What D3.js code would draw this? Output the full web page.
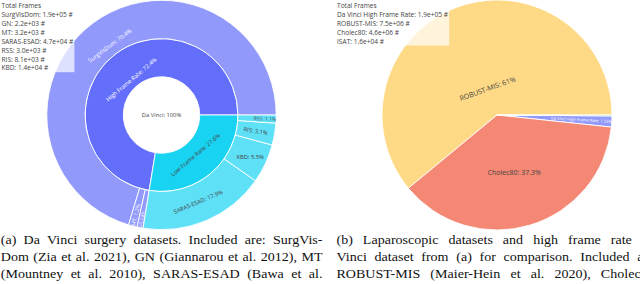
<!DOCTYPE html>
<html><head><meta charset="utf-8">
<script src="https://cdn.jsdelivr.net/npm/d3@7/dist/d3.min.js"></script>
<style>html,body{margin:0;padding:0;background:#fff;overflow:hidden}svg{display:block}</style>
</head><body>
<svg id="chart" width="640" height="284" viewBox="0 0 640 284"></svg>
<script>
// ---------------- data ----------------
const daVinciRoot = "Da Vinci";
const frameRateGroups = ["High Frame Rate", "Low Frame Rate"];
const daVinciDatasets = ["SurgVisDom", "GN", "MT", "SARAS-ESAD", "RSS", "RIS", "KBD"];
const daVinciGroupOf = ["High Frame Rate", "High Frame Rate", "High Frame Rate",
                        "Low Frame Rate", "Low Frame Rate", "Low Frame Rate", "Low Frame Rate"];
const daVinciFrames = [185200, 2200, 3200, 47000, 3000, 8100, 14480];

const lapDatasets = ["Da Vinci High Frame Rate", "ROBUST-MIS", "Cholec80", "ISAT"];
const lapFrames = [190600, 7500000, 4590000, 16000];

const legendTitle = "Total Frames";
const captionA = [
  "(a) Da Vinci surgery datasets. Included are: SurgVis-",
  "Dom (Zia et al. 2021), GN (Giannarou et al. 2012), MT",
  "(Mountney et al. 2010), SARAS-ESAD (Bawa et al."
];
const captionB = [
  "(b) Laparoscopic datasets and high frame rate Da",
  "Vinci dataset from (a) for comparison. Included are:",
  "ROBUST-MIS (Maier-Hein et al. 2020), Cholec80,"
];
const groupColors = ["#636efa", "#19d3f3"];
const lapColors = ["#636efa", "#fecb52", "#ef553b", "#00cc96"];

// ---------------- setup ----------------
const svg = d3.select("#chart");
const FONT = "'Open Sans', 'Liberation Sans', Arial, sans-serif";
const CAP_FONT = "'Liberation Serif', 'Times New Roman', serif";
const DARK = "#444";
const meas = svg.append("text").attr("font-size", 100).attr("visibility", "hidden");
function emWidth(str, family) {
  meas.attr("font-family", family || FONT).text(str);
  return meas.node().getComputedTextLength() / 100;
}
function contrast(c) {
  if (!c) return DARK;
  const k = d3.rgb(c);
  return (k.r * 299 + k.g * 587 + k.b * 114) / 1000 > 128 ? DARK : "#fff";
}

// plotly-like inside-text fitting
const H_EM = 1.3;
function angleDelta(a, b) {
  const t = 2 * Math.PI, d = b - a + Math.PI;
  return ((d % t) + t) % t - Math.PI;
}
function maxHalf(a, ha, r, ring) {
  const q = a + 1 / (2 * Math.tan(ha));
  return r * Math.min(1 / (Math.sqrt(q * q + 0.5) + q), ring / (Math.sqrt(a * a + ring / 2) + a));
}
function rot(t) { return (180 / Math.PI * t + 720) % 180 - 90; }
function placeLabel(g, cx, cy, x0, x1, r0, r1, text, F, color) {
  const W = emWidth(text) * F, H = H_EM * F;
  const full = (x1 - x0) >= 2 * Math.PI - 1e-6;
  const ha = 0.5 * Math.min(angleDelta(x0, x1) || Math.PI, Math.PI);
  const ring = 1 - r0 / r1;
  const phi = Math.PI / 2 - (x0 + x1) / 2; // clockwise from 12 o'clock
  const rIns = (r0 === 0 && full) ? 1 : Math.max(0, Math.min(1 / (1 + 1 / Math.sin(ha)), ring / 2));
  const hScale = 2 * rIns * r1 / Math.hypot(W, H);
  let t;
  if (hScale >= 1) t = { scale: 1, rc: 1 - rIns, rotate: 0 };
  else {
    let a = W / H, s = maxHalf(a, ha, r1, ring);
    const rad = { scale: 2 * s / H, rc: Math.cos(s / r1) - a * s / r1, rotate: rot(phi) };
    a = H / W; s = maxHalf(a, ha, r1, ring);
    const tan = { scale: 2 * s / W, rc: Math.cos(s / r1) - a * s / r1, rotate: rot(phi + Math.PI / 2) };
    t = rad.scale > tan.scale ? rad : tan;
    if (hScale > t.scale) t = { scale: hScale, rc: 1 - rIns, rotate: 0 };
    t.scale = Math.min(1, t.scale);
  }
  const x = cx + t.rc * r1 * Math.sin(phi), y = cy - t.rc * r1 * Math.cos(phi);
  g.append("text")
    .attr("transform", `translate(${x},${y}) rotate(${t.rotate})`)
    .attr("text-anchor", "middle").attr("dy", "0.36em")
    .attr("font-family", FONT).attr("font-size", F * t.scale)
    .attr("fill", color).text(text);
}

// ---------------- (a) sunburst ----------------
const sbCx = 161.5, sbCy = 115, sbR = 114.7, sbFont = 5.8;
const rootData = {
  name: daVinciRoot,
  children: frameRateGroups.map((gname, gi) => ({
    name: gname, color: groupColors[gi],
    children: daVinciDatasets.map((n, i) => ({ name: n, value: daVinciFrames[i], group: daVinciGroupOf[i] }))
      .filter(d => d.group === gname)
  }))
};
const root = d3.hierarchy(rootData).sum(d => d.value || 0).sort((a, b) => b.value - a.value);
d3.partition().size([2 * Math.PI, 3])(root);
const rScale = d3.scaleLinear().domain([0, 3]).range([0, sbR]);
const sbArc = d3.arc()
  .startAngle(d => Math.PI / 2 - d.x1).endAngle(d => Math.PI / 2 - d.x0)
  .innerRadius(d => rScale(d.y0)).outerRadius(d => rScale(d.y1));
const baseColor = d => d.depth === 0 ? null : (d.depth === 1 ? d.data.color : d.parent.data.color);
const gA = svg.append("g");
gA.append("g").attr("transform", `translate(${sbCx},${sbCy})`)
  .selectAll("path").data(root.descendants()).join("path")
  .attr("d", sbArc)
  .attr("fill", d => baseColor(d) || "#fff")
  .attr("fill-opacity", d => d.depth === 2 ? 0.7 : 1)
  .attr("stroke", "#fff").attr("stroke-width", 0.9);
const pctA = v => d3.format(".1%")(v).replace(/\.0%$/, "%");
root.descendants().forEach(d => {
  placeLabel(gA, sbCx, sbCy, d.x0, d.x1, rScale(d.y0), rScale(d.y1),
    `${d.data.name}: ${pctA(d.value / root.value)}`, sbFont, contrast(baseColor(d)));
});

// ---------------- (b) pie ----------------
const pCx = 497, pCy = 115, pR = 115, pFont = 7.0;
const lapTotal = d3.sum(lapFrames);
const pieData = d3.pie().value(i => lapFrames[i]).sort((a, b) => lapFrames[b] - lapFrames[a])
  .startAngle(0).endAngle(2 * Math.PI)(d3.range(lapFrames.length));
const pieArc = d3.arc()
  .startAngle(d => Math.PI / 2 - d.endAngle).endAngle(d => Math.PI / 2 - d.startAngle)
  .innerRadius(0).outerRadius(pR);
const gB = svg.append("g");
gB.append("g").attr("transform", `translate(${pCx},${pCy})`)
  .selectAll("path").data(pieData).join("path")
  .attr("d", pieArc)
  .attr("fill", d => lapColors[d.data]).attr("fill-opacity", 0.7)
  .attr("stroke", "#fff").attr("stroke-width", 0.9);
const pctB = d3.format(".3~p");
pieData.forEach(d => {
  placeLabel(gB, pCx, pCy, d.startAngle, d.endAngle, 0, pR,
    `${lapDatasets[d.data]}: ${pctB(lapFrames[d.data] / lapTotal)}`, pFont, contrast(lapColors[d.data]));
});

// ---------------- legend boxes ----------------
const fmtExp = v => v.toExponential(1).replace(/e([+-])(\d)$/, "e$10$2");
function legendBox(names, values, boxX, textX) {
  const lines = [legendTitle].concat(names.map((n, i) => `${n}: ${fmtExp(values[i])} #`));
  const g = svg.append("g");
  const rect = g.append("rect").attr("fill", "#fff").attr("fill-opacity", 0.7);
  let maxW = 0, lastY = 0;
  lines.forEach((l, i) => {
    const y = 8.1 + 8.9 * i;
    const t = g.append("text").attr("x", textX).attr("y", y)
      .attr("font-family", FONT).attr("font-size", 6.6).attr("fill", DARK).text(l);
    maxW = Math.max(maxW, t.node().getComputedTextLength());
    lastY = y;
  });
  rect.attr("x", boxX).attr("y", 0).attr("width", textX + maxW + 1.2 - boxX).attr("height", lastY + 1.8);
}
legendBox(daVinciDatasets, daVinciFrames, 0, 1.5);
legendBox(lapDatasets, lapFrames, 335, 337);

// ---------------- captions ----------------
const capSize = 13, capStretch = 1.08, capBase = [244.3, 261, 277.7];
function caption(lines, x0, x1) {
  lines.forEach((line, i) => {
    const words = line.split(" ");
    const widths = words.map(w => emWidth(w, CAP_FONT) * capSize * capStretch);
    const gap = (x1 - x0 - d3.sum(widths)) / (words.length - 1);
    let x = x0;
    words.forEach((w, j) => {
      svg.append("text").attr("x", x).attr("y", capBase[i])
        .attr("font-family", CAP_FONT).attr("font-size", capSize).attr("fill", "#111")
        .attr("textLength", widths[j]).attr("lengthAdjust", "spacingAndGlyphs").text(w);
      x += widths[j] + gap;
    });
  });
}
caption(captionA, 0.8, 322.5);
caption(captionB, 336.5, 658.2);
meas.remove();
</script>
</body></html>
